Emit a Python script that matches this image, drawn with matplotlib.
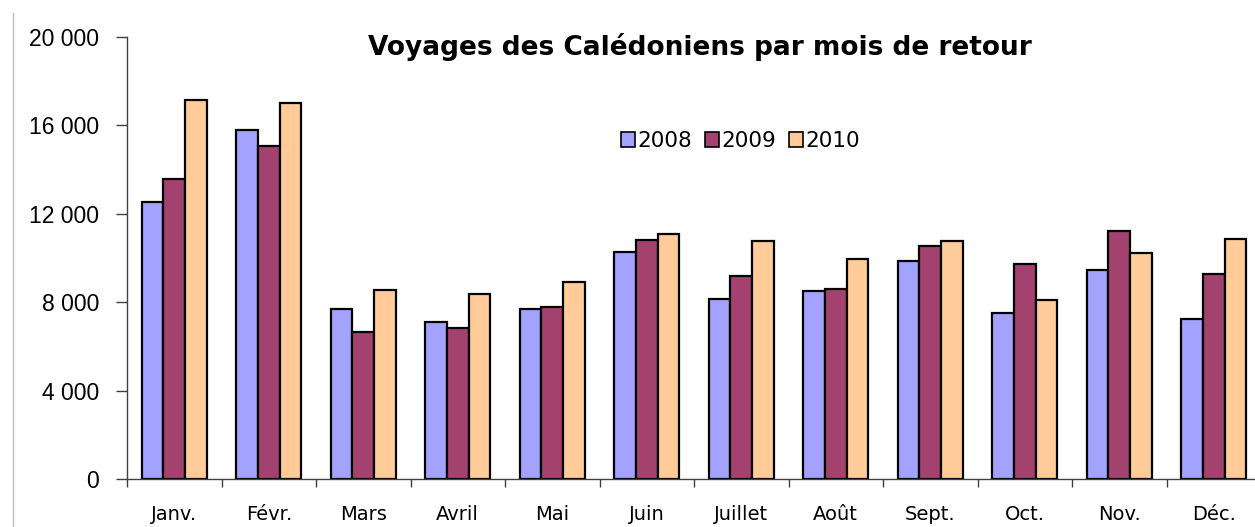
"""Voyages des Calédoniens par mois de retour, 2008-2010 (grouped bars)."""

import matplotlib
matplotlib.use("Agg")
import matplotlib.pyplot as plt
from matplotlib.lines import Line2D
import numpy as np

months = ["Janv.", "Févr.", "Mars", "Avril", "Mai", "Juin",
          "Juillet", "Août", "Sept.", "Oct.", "Nov.", "Déc."]
years = ["2008", "2009", "2010"]
v2008 = [12550, 15770, 7690, 7110, 7690, 10250, 8140, 8490, 9850, 7510, 9440, 7260]
v2009 = [13580, 15090, 6650, 6810, 7790, 10830, 9200, 8610, 10530, 9720, 11240, 9260]
v2010 = [17170, 17000, 8560, 8380, 8910, 11070, 10770, 9950, 10770, 8080, 10210, 10870]
yticks = [0, 4000, 8000, 12000, 16000, 20000]
ytick_labels = ["0", "4 000", "8 000", "12 000", "16 000", "20 000"]

colors = ["#A3A3FF", "#A4426F", "#FFCC99"]


def main() -> None:
    fig = plt.figure(figsize=(12.55, 5.27), dpi=100)
    ax = fig.add_axes([0.1012, 0.0911, 0.9036, 0.8387])

    x = np.arange(len(months))
    w = 0.23
    for i, (vals, lab, c) in enumerate(zip([v2008, v2009, v2010], years, colors)):
        ax.bar(x + (i - 1) * w, vals, width=w, color=c, edgecolor="black",
               linewidth=1.6, label=lab, zorder=2)

    ax.set_xlim(-0.5, len(months) - 0.5)
    ax.set_ylim(0, 20000)

    ax.set_yticks(yticks)
    ax.set_yticklabels(ytick_labels, fontsize=16.5, family="Liberation Sans")
    ax.tick_params(axis="y", direction="out", length=8, width=1,
                   color="#404040", pad=12)

    ax.set_xticks(x)
    ax.set_xticklabels(months, fontsize=14, family="DejaVu Sans")
    ax.tick_params(axis="x", which="major", length=0, pad=19)
    ax.set_xticks(np.arange(len(months) + 1) - 0.5, minor=True)
    ax.tick_params(axis="x", which="minor", direction="out", length=6,
                   width=1, color="#404040")

    for s in ["top", "right"]:
        ax.spines[s].set_visible(False)
    for s in ["left", "bottom"]:
        ax.spines[s].set_color("#404040")
        ax.spines[s].set_linewidth(1)

    fig.text(0.558, 0.911, "Voyages des Calédoniens par mois de retour",
             ha="center", va="center", fontsize=19, fontweight="bold",
             family="DejaVu Sans")

    leg = ax.legend(loc="center", bbox_to_anchor=(0.59, 0.732),
                    bbox_transform=fig.transFigure, ncol=3, frameon=False,
                    prop={"family": "DejaVu Sans", "size": 15.5},
                    handlelength=0.65, handleheight=0.65, handletextpad=0.1,
                    columnspacing=0.6)
    for h in leg.legend_handles:
        h.set_linewidth(1.2)

    fig.add_artist(Line2D([0.0104, 0.0104], [0.0, 0.975],
                          transform=fig.transFigure, color="#C0C0C0",
                          linewidth=1))

    fig.savefig("out.png", dpi=100)


if __name__ == "__main__":
    main()
